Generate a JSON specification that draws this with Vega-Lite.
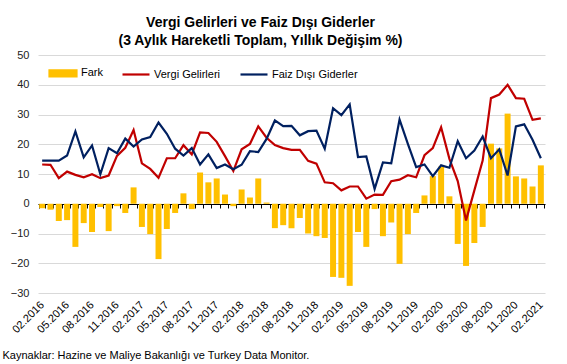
{
  "$schema": "https://vega.github.io/schema/vega-lite/v6.json",
  "width": 507,
  "height": 238,
  "autosize": "none",
  "padding": {"left": 38, "top": 55, "right": 22, "bottom": 71},
  "background": "white",
  "config": {"font": "Liberation Sans", "view": {"stroke": null}},
  "title": {
    "text": ["Vergi Gelirleri ve Faiz Dışı Giderler", "(3 Aylık Hareketli Toplam, Yıllık Değişim %)"],
    "fontSize": 14,
    "fontWeight": "bold",
    "color": "#000",
    "lineHeight": 18,
    "anchor": "middle",
    "dx": -31,
    "offset": 1
  },
  "data": {
    "values": [
      {"Tarih": "2016-02-01", "Fark": -1.5, "Vergi Gelirleri": 13.2, "Faiz Dışı Giderler": 14.5},
      {"Tarih": "2016-03-01", "Fark": -2.0, "Vergi Gelirleri": 13.1, "Faiz Dışı Giderler": 14.5},
      {"Tarih": "2016-04-01", "Fark": -5.8, "Vergi Gelirleri": 8.6, "Faiz Dışı Giderler": 14.5},
      {"Tarih": "2016-05-01", "Fark": -5.5, "Vergi Gelirleri": 10.8, "Faiz Dışı Giderler": 16.2},
      {"Tarih": "2016-06-01", "Fark": -14.5, "Vergi Gelirleri": 9.7, "Faiz Dışı Giderler": 24.3},
      {"Tarih": "2016-07-01", "Fark": -6.5, "Vergi Gelirleri": 8.9, "Faiz Dışı Giderler": 15.6},
      {"Tarih": "2016-08-01", "Fark": -9.5, "Vergi Gelirleri": 9.9, "Faiz Dışı Giderler": 19.6},
      {"Tarih": "2016-09-01", "Fark": -1.1, "Vergi Gelirleri": 8.6, "Faiz Dışı Giderler": 9.9},
      {"Tarih": "2016-10-01", "Fark": -9.2, "Vergi Gelirleri": 9.5, "Faiz Dışı Giderler": 18.7},
      {"Tarih": "2016-11-01", "Fark": -0.8, "Vergi Gelirleri": 16.1, "Faiz Dışı Giderler": 17.0},
      {"Tarih": "2016-12-01", "Fark": -3.1, "Vergi Gelirleri": 18.8, "Faiz Dışı Giderler": 21.9},
      {"Tarih": "2017-01-01", "Fark": 5.5, "Vergi Gelirleri": 24.8, "Faiz Dışı Giderler": 19.2},
      {"Tarih": "2017-02-01", "Fark": -7.8, "Vergi Gelirleri": 13.6, "Faiz Dışı Giderler": 21.6},
      {"Tarih": "2017-03-01", "Fark": -10.2, "Vergi Gelirleri": 11.7, "Faiz Dışı Giderler": 22.4},
      {"Tarih": "2017-04-01", "Fark": -18.6, "Vergi Gelirleri": 8.7, "Faiz Dışı Giderler": 27.3},
      {"Tarih": "2017-05-01", "Fark": -8.5, "Vergi Gelirleri": 15.3, "Faiz Dışı Giderler": 23.5},
      {"Tarih": "2017-06-01", "Fark": -3.1, "Vergi Gelirleri": 15.3, "Faiz Dışı Giderler": 18.5},
      {"Tarih": "2017-07-01", "Fark": 3.5, "Vergi Gelirleri": 19.7, "Faiz Dışı Giderler": 16.2},
      {"Tarih": "2017-08-01", "Fark": -1.8, "Vergi Gelirleri": 16.6, "Faiz Dışı Giderler": 18.7},
      {"Tarih": "2017-09-01", "Fark": 10.5, "Vergi Gelirleri": 24.0, "Faiz Dışı Giderler": 13.2},
      {"Tarih": "2017-10-01", "Fark": 7.2, "Vergi Gelirleri": 23.8, "Faiz Dışı Giderler": 16.6},
      {"Tarih": "2017-11-01", "Fark": 8.5, "Vergi Gelirleri": 20.8, "Faiz Dışı Giderler": 12.0},
      {"Tarih": "2017-12-01", "Fark": 3.1, "Vergi Gelirleri": 16.0, "Faiz Dışı Giderler": 13.2},
      {"Tarih": "2018-01-01", "Fark": -0.8, "Vergi Gelirleri": 11.0, "Faiz Dışı Giderler": 11.6},
      {"Tarih": "2018-02-01", "Fark": 4.8, "Vergi Gelirleri": 18.3, "Faiz Dışı Giderler": 13.1},
      {"Tarih": "2018-03-01", "Fark": 2.1, "Vergi Gelirleri": 20.1, "Faiz Dışı Giderler": 17.7},
      {"Tarih": "2018-04-01", "Fark": 8.5, "Vergi Gelirleri": 26.0, "Faiz Dışı Giderler": 17.4},
      {"Tarih": "2018-05-01", "Fark": 0.4, "Vergi Gelirleri": 22.2, "Faiz Dışı Giderler": 21.8},
      {"Tarih": "2018-06-01", "Fark": -8.2, "Vergi Gelirleri": 19.7, "Faiz Dışı Giderler": 28.0},
      {"Tarih": "2018-07-01", "Fark": -7.2, "Vergi Gelirleri": 18.7, "Faiz Dışı Giderler": 26.1},
      {"Tarih": "2018-08-01", "Fark": -8.2, "Vergi Gelirleri": 18.1, "Faiz Dışı Giderler": 26.2},
      {"Tarih": "2018-09-01", "Fark": -4.8, "Vergi Gelirleri": 18.1, "Faiz Dışı Giderler": 23.0},
      {"Tarih": "2018-10-01", "Fark": -10.0, "Vergi Gelirleri": 14.4, "Faiz Dışı Giderler": 24.4},
      {"Tarih": "2018-11-01", "Fark": -10.9, "Vergi Gelirleri": 13.5, "Faiz Dışı Giderler": 24.6},
      {"Tarih": "2018-12-01", "Fark": -11.5, "Vergi Gelirleri": 7.2, "Faiz Dışı Giderler": 18.5},
      {"Tarih": "2019-01-01", "Fark": -24.6, "Vergi Gelirleri": 6.9, "Faiz Dışı Giderler": 32.1},
      {"Tarih": "2019-02-01", "Fark": -24.9, "Vergi Gelirleri": 4.5, "Faiz Dışı Giderler": 29.8},
      {"Tarih": "2019-03-01", "Fark": -27.6, "Vergi Gelirleri": 5.8, "Faiz Dışı Giderler": 33.4},
      {"Tarih": "2019-04-01", "Fark": -9.5, "Vergi Gelirleri": 5.8, "Faiz Dışı Giderler": 15.7},
      {"Tarih": "2019-05-01", "Fark": -14.5, "Vergi Gelirleri": 1.7, "Faiz Dışı Giderler": 15.9},
      {"Tarih": "2019-06-01", "Fark": -1.8, "Vergi Gelirleri": 3.1, "Faiz Dışı Giderler": 5.0},
      {"Tarih": "2019-07-01", "Fark": -10.9, "Vergi Gelirleri": 3.0, "Faiz Dışı Giderler": 13.9},
      {"Tarih": "2019-08-01", "Fark": -6.3, "Vergi Gelirleri": 7.6, "Faiz Dışı Giderler": 13.6},
      {"Tarih": "2019-09-01", "Fark": -20.2, "Vergi Gelirleri": 8.1, "Faiz Dışı Giderler": 28.3},
      {"Tarih": "2019-10-01", "Fark": -10.2, "Vergi Gelirleri": 9.6, "Faiz Dışı Giderler": 20.1},
      {"Tarih": "2019-11-01", "Fark": -3.1, "Vergi Gelirleri": 8.9, "Faiz Dışı Giderler": 12.3},
      {"Tarih": "2019-12-01", "Fark": 2.8, "Vergi Gelirleri": 16.3, "Faiz Dışı Giderler": 13.2},
      {"Tarih": "2020-01-01", "Fark": 9.3, "Vergi Gelirleri": 18.7, "Faiz Dışı Giderler": 9.3},
      {"Tarih": "2020-02-01", "Fark": 12.5, "Vergi Gelirleri": 25.7, "Faiz Dışı Giderler": 12.9},
      {"Tarih": "2020-03-01", "Fark": 2.5, "Vergi Gelirleri": 15.1, "Faiz Dışı Giderler": 12.1},
      {"Tarih": "2020-04-01", "Fark": -13.5, "Vergi Gelirleri": 7.6, "Faiz Dışı Giderler": 21.0},
      {"Tarih": "2020-05-01", "Fark": -20.9, "Vergi Gelirleri": -5.6, "Faiz Dışı Giderler": 15.3},
      {"Tarih": "2020-06-01", "Fark": -13.2, "Vergi Gelirleri": 4.5, "Faiz Dışı Giderler": 17.9},
      {"Tarih": "2020-07-01", "Fark": -7.8, "Vergi Gelirleri": 14.5, "Faiz Dışı Giderler": 22.6},
      {"Tarih": "2020-08-01", "Fark": 20.2, "Vergi Gelirleri": 35.5, "Faiz Dışı Giderler": 15.3},
      {"Tarih": "2020-09-01", "Fark": 18.6, "Vergi Gelirleri": 36.7, "Faiz Dışı Giderler": 18.3},
      {"Tarih": "2020-10-01", "Fark": 30.3, "Vergi Gelirleri": 40.0, "Faiz Dışı Giderler": 9.5},
      {"Tarih": "2020-11-01", "Fark": 9.2, "Vergi Gelirleri": 35.5, "Faiz Dışı Giderler": 26.0},
      {"Tarih": "2020-12-01", "Fark": 8.5, "Vergi Gelirleri": 35.3, "Faiz Dışı Giderler": 26.7},
      {"Tarih": "2021-01-01", "Fark": 5.8, "Vergi Gelirleri": 28.2, "Faiz Dışı Giderler": 21.5},
      {"Tarih": "2021-02-01", "Fark": 12.9, "Vergi Gelirleri": 28.7, "Faiz Dışı Giderler": 15.3}
    ]
  },
  "encoding": {
    "x": {
      "field": "Tarih",
      "timeUnit": "utcyearmonth",
      "type": "ordinal",
      "scale": {"paddingInner": 0.28, "paddingOuter": 0.14},
      "axis": {
        "title": "Kaynaklar: Hazine ve Maliye Bakanlığı ve Turkey Data Monitor.",
        "offset": -89,
        "domainColor": "#000",
        "domainWidth": 1,
        "tickColor": "#000",
        "tickSize": 4,
        "tickBand": "extent",
        "grid": false,
        "labelAngle": -45,
        "labelAlign": "right",
        "labelBaseline": "middle",
        "labelPadding": 95,
        "labelFontSize": 11,
        "labelColor": "#000",
        "labelOverlap": false,
        "labelExpr": "utcmonth(datum.value) % 3 == 1 ? utcFormat(datum.value, '%m.%Y') : ''",
        "titleAnchor": "start",
        "titleAlign": "left",
        "titleX": -36,
        "titleY": 154,
        "titleFontSize": 11,
        "titleFontWeight": "normal",
        "titleColor": "#000",
        "titleBaseline": "alphabetic"
      }
    },
    "y": {
      "field": "Deger",
      "type": "quantitative",
      "scale": {"domain": [-30, 50], "nice": false, "zero": false},
      "axis": {
        "title": null,
        "values": [-30, -20, -10, 0, 10, 20, 30, 40, 50],
        "grid": true,
        "gridColor": "#D9D9D9",
        "domain": false,
        "ticks": false,
        "labelOverlap": false,
        "labelFlush": false,
        "labelBound": false,
        "labelPadding": 9,
        "labelFontSize": 11,
        "labelColor": "#222"
      }
    },
    "color": {
      "field": "Seri",
      "type": "nominal",
      "scale": {"domain": ["Fark", "Vergi Gelirleri", "Faiz Dışı Giderler"], "range": ["#FFC000", "#C00000", "#002060"]},
      "legend": {
        "title": null,
        "orient": "none",
        "legendX": 10,
        "legendY": 3,
        "direction": "horizontal",
        "labelFontSize": 11,
        "labelColor": "#000",
        "symbolSize": 729,
        "labelOffset": 3,
        "columnPadding": 15,
        "encode": {
          "symbols": {
            "update": {
              "shape": {"signal": "datum.value === 'Fark' ? 'M-1,-0.22H1V0.22H-1Z' : 'M-1,0H1'"},
              "fill": {"signal": "datum.value === 'Fark' ? '#FFC000' : 'transparent'"},
              "stroke": {"signal": "datum.value === 'Fark' ? 'transparent' : (datum.value === 'Vergi Gelirleri' ? '#C00000' : '#002060')"},
              "strokeWidth": {"value": 2.2},
              "opacity": {"value": 1}
            }
          }
        }
      }
    }
  },
  "layer": [
    {
      "transform": [{"fold": ["Fark"], "as": ["Seri", "Deger"]}],
      "mark": {"type": "bar"}
    },
    {
      "transform": [{"fold": ["Vergi Gelirleri", "Faiz Dışı Giderler"], "as": ["Seri", "Deger"]}],
      "mark": {"type": "line", "strokeWidth": 2.2}
    }
  ]
}
